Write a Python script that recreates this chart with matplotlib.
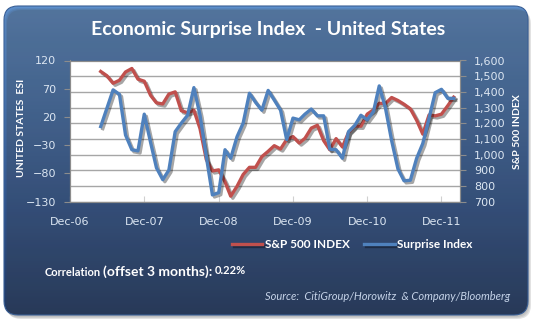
import numpy as np
import pandas as pd
import matplotlib.pyplot as plt
import matplotlib.dates as mdates
from matplotlib.patches import FancyBboxPatch
from matplotlib.ticker import FuncFormatter
from matplotlib.colors import LinearSegmentedColormap
import matplotlib.patheffects as pe

# monthly closes, May 2007 - Feb 2012
meses = pd.date_range('2007-05-31', periods=58, freq='ME')

sp500 = [1530, 1503, 1455, 1474, 1527, 1549, 1481, 1468,
         1378, 1330, 1323, 1386, 1400, 1280, 1267, 1283, 1166, 969, 896, 903,
         826, 735, 798, 873, 919, 919, 987, 1021, 1057, 1036, 1096, 1115,
         1074, 1104, 1169, 1187, 1089, 1031, 1102, 1049, 1141, 1183, 1181, 1258,
         1286, 1327, 1326, 1364, 1345, 1321, 1292, 1219, 1131, 1253, 1247, 1258,
         1312, 1366]

surpresa = [3, 35, 68, 60, -12, -38, -40, 25,
            -25, -70, -91, -74, -6, 9, 23, 72, 23, -50, -118, -114,
            -38, -53, -15, 9, 62, 46, 32, 67, 50, 32, -20, 18,
            15, 25, 34, 22, 22, -37, -38, -53, -6, 5, 23, 15,
            30, 75, 35, -22, -72, -93, -92, -53, -27, 18, 63, 69,
            53, 53]

esi_ticks = [-130, -80, -30, 20, 70, 120]
sp_ticks = [700, 800, 900, 1000, 1100, 1200, 1300, 1400, 1500, 1600]

W, H = 539, 326
fig = plt.figure(figsize=(W / 100, H / 100), dpi=100)
fig.patch.set_facecolor('white')

# painel de fundo com gradiente
fundo = fig.add_axes([0, 0, 1, 1])
fundo.set_xlim(0, W)
fundo.set_ylim(H, 0)
fundo.axis('off')

for i, a in enumerate([0.10, 0.12, 0.15]):
    sombra = FancyBboxPatch((5 + i, 8 + i), 524, 309,
                            boxstyle='round,pad=0,rounding_size=14',
                            facecolor='#404040', edgecolor='none', alpha=a)
    fundo.add_patch(sombra)

painel = FancyBboxPatch((4, 6), 524, 309,
                        boxstyle='round,pad=0,rounding_size=14',
                        facecolor='none', edgecolor='#3a5f95', lw=0.8)
fundo.add_patch(painel)
grad = np.linspace(0, 1, 256).reshape(-1, 1)
cmap = LinearSegmentedColormap.from_list('painel', ['#5d8fcc', '#4574b3', '#2f5592', '#1e3866'])
img = fundo.imshow(grad, cmap=cmap, aspect='auto', extent=(4, 528, 315, 6))
img.set_clip_path(painel)

# area do grafico
ax = fig.add_axes([70 / W, 1 - 201.7 / H, 390 / W, 141.2 / H])
ax2 = ax.twinx()

cor_tick = '#dce6f2'

ax.set_facecolor('white')
ax.plot(meses, sp500, color='#c0504d', lw=2.4, solid_joinstyle='round',
        path_effects=[pe.SimpleLineShadow(offset=(1.5, -1.5), alpha=0.35), pe.Normal()])
ax.set_ylim(700, 1600)
ax.set_yticks(sp_ticks)
ax.yaxis.set_major_formatter(FuncFormatter(lambda v, p: '{:,.0f}'.format(v)))
ax.yaxis.tick_right()
ax.grid(axis='y', color='#a6a6a6', lw=1)
ax.set_axisbelow(True)

ax2.plot(meses, surpresa, color='#4f81bd', lw=2.4, solid_joinstyle='round',
         path_effects=[pe.SimpleLineShadow(offset=(1.5, -1.5), alpha=0.35), pe.Normal()])
ax2.set_ylim(-130, 120)
ax2.set_yticks(esi_ticks)
ax2.yaxis.tick_left()

ax.set_xlim(pd.Timestamp('2006-12-31'), pd.Timestamp('2012-03-31'))
ax.set_xticks(pd.to_datetime(['2006-12-31', '2007-12-31', '2008-12-31',
                              '2009-12-31', '2010-12-31', '2011-12-31']))
ax.xaxis.set_major_formatter(mdates.DateFormatter('%b-%y'))

for a in (ax, ax2):
    a.tick_params(colors='#8c8c8c', labelcolor=cor_tick, labelsize=8, length=4)
    for s in a.spines.values():
        s.set_color('#8c8c8c')
ax.tick_params(axis='x', direction='in', length=4, pad=11, colors='#d0d0d0', labelcolor=cor_tick)
ax.tick_params(axis='y', pad=6)
ax2.tick_params(axis='y', pad=6)

# textos
fig.text(268 / W, 1 - 29 / H, 'Economic Surprise Index  - United States', color='white',
         fontsize=14, fontweight='bold', family='Lato', ha='center', va='center')
fig.text(22 / W, 1 - 128 / H, 'UNITED STATES  ESI', color='white', fontsize=7.5,
         fontweight='bold', family='Lato', rotation=90, ha='center', va='center')
fig.text(517 / W, 1 - 132 / H, 'S&P 500 INDEX', color='white', fontsize=7.5,
         fontweight='bold', family='Lato', rotation=90, ha='center', va='center')

leg = fig.legend(ax.get_lines() + ax2.get_lines(), ['S&P 500 INDEX', 'Surprise Index'],
                 loc='center', bbox_to_anchor=(352 / W, 1 - 245 / H), ncol=2,
                 frameon=False, handlelength=2.6, columnspacing=1.2, handletextpad=0.2,
                 prop={'family': 'Lato', 'weight': 'bold', 'size': 8.5})
for t in leg.get_texts():
    t.set_color('white')

fig.text(45 / W, 1 - 273 / H, 'Correlation', color='white', fontsize=8,
         fontweight='bold', family='Lato', va='center')
fig.text(103 / W, 1 - 272 / H, '(offset 3 months):', color='white', fontsize=10,
         fontweight='bold', family='Lato', va='center')
fig.text(215 / W, 1 - 271 / H, '0.22%', color='white', fontsize=8,
         fontweight='bold', family='Lato', va='center')
fig.text(510 / W, 1 - 297 / H, 'Source:  CitiGroup/Horowitz  & Company/Bloomberg',
         color='#c5d3e8', fontsize=8, style='italic', family='Lato', ha='right', va='center')

fig.savefig('out.png', dpi=100)
